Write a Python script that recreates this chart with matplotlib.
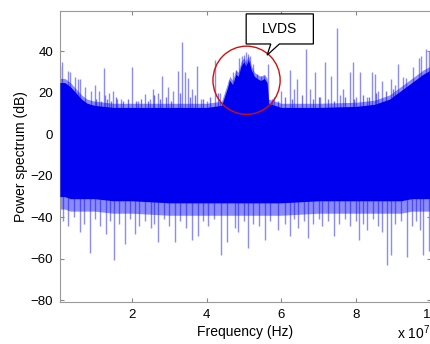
import matplotlib
matplotlib.use("Agg")
import matplotlib.pyplot as plt
from matplotlib.patches import Ellipse, Polygon

plt.rcParams['font.family'] = ['Liberation Sans', 'DejaVu Sans']
plt.rcParams['mathtext.default'] = 'regular'

# ── data (frequency in units of 1e7 Hz, level in dB) ────
# dense body of the spectrum: upper / lower edge
env_f = [0.07, 0.2, 0.35, 0.5, 0.65, 0.8, 1.0, 1.5, 2.0, 3.0, 4.0, 4.4, 4.55,
         4.62, 4.7, 4.78, 4.85, 4.92, 5.0, 5.05, 5.12, 5.2, 5.28, 5.35, 5.45,
         5.55, 5.62, 5.66, 6.0, 7.0, 8.0, 8.5, 8.9, 9.2, 9.5, 9.8, 10.0]
env_top = [25, 25, 23, 20, 17, 15, 14, 13, 13, 13, 13, 14, 22,
           26, 24, 29, 28, 33, 35, 33, 36, 31, 28, 27, 26,
           27, 25, 15, 13, 13, 13.5, 14.5, 17, 21, 25, 29, 31]
env_bot = [-30, -30, -31, -31, -31, -31, -31, -32, -32, -33, -33, -33, -33,
           -33, -33, -33, -33, -33, -33, -33, -33, -33, -33, -33, -33,
           -33, -33, -33, -33, -32, -32, -32, -32, -32, -31, -31, -31]

# tall upward spikes
up_f = [0.07, 0.12, 0.28, 0.34, 0.47, 0.55, 0.62, 0.74, 0.9, 1.0, 1.13, 1.25,
        1.28, 1.38, 1.5, 1.6, 1.7, 2.0, 2.15, 2.35, 2.48, 2.56, 2.7, 2.81,
        2.97, 3.10, 3.23, 3.34, 3.42, 3.50, 3.61, 3.74, 3.85, 4.0, 4.23, 4.36,
        4.6, 4.7, 4.8, 4.88, 4.95, 5.0, 5.05, 5.1, 5.15, 5.25, 5.35, 5.45,
        5.55, 5.65, 5.8, 6.0, 6.24, 6.35, 6.43, 6.67, 6.78, 6.91, 7.05, 7.18,
        7.32, 7.50, 7.58, 7.66, 7.83, 7.91, 8.0, 8.12, 8.3, 8.44, 8.50, 8.6,
        8.71, 8.93, 9.05, 9.14, 9.25, 9.35, 9.54, 9.68, 9.75, 9.87, 9.95]
up_db = [33, 35, 30.5, 30, 27.5, 26.6, 26.6, 23, 21, 24, 21, 32,
         19, 20, 21, 17, 17, 32.4, 16, 19.4, 17, 21.8, 20, 28,
         23, 21, 30.5, 44.5, 30, 27, 22, 33, 17, 16, 36, 20,
         26, 30, 31, 37, 38, 38.5, 39.7, 39, 38, 34, 29, 28,
         28, 34, 18, 21, 31, 22, 26.6, 41, 22, 30, 18, 35,
         28, 51.5, 19, 22, 30, 35, 18, 30, 18, 30, 29, 21,
         25.7, 26.6, 24, 34, 27.5, 27, 32.4, 37, 38, 41, 40]

# short upward spikes just above the body
up_small_f = [1.05, 1.18, 1.33, 1.45, 1.58, 1.75, 1.9, 2.1, 2.25, 2.42, 2.6,
              2.75, 2.9, 3.05, 3.3, 3.55, 3.68, 3.9, 4.1, 4.3, 5.75, 5.9, 6.1,
              6.3, 6.55, 6.85, 7.0, 7.25, 7.4, 7.7, 7.95, 8.2, 8.35, 8.55, 8.8,
              9.0]
up_small_db = [17, 16, 17, 16, 18, 16, 17, 16, 17, 16, 19,
               17, 18, 16, 20, 18, 19, 17, 18, 20, 17, 16, 18,
               17, 19, 17, 18, 17, 16, 18, 17, 19, 18, 20, 21,
               22]

# downward spikes
dn_f = [0.15, 0.3, 0.45, 0.6, 0.72, 0.87, 1.0, 1.15, 1.30, 1.42, 1.52, 1.65,
        1.81, 1.95, 2.08, 2.2, 2.35, 2.5, 2.6, 2.70, 2.85, 3.0, 3.15, 3.3,
        3.45, 3.61, 3.77, 3.9, 4.05, 4.2, 4.39, 4.55, 4.77, 4.85, 5.0, 5.11,
        5.25, 5.4, 5.57, 5.7, 5.92, 6.1, 6.24, 6.35, 6.46, 6.6, 6.72, 6.85,
        7.0, 7.10, 7.25, 7.40, 7.55, 7.7, 7.85, 8.0, 8.09, 8.2, 8.31, 8.45,
        8.6, 8.71, 8.82, 8.93, 9.05, 9.2, 9.38, 9.5, 9.62, 9.73, 9.81, 9.95]
dn_db = [-42, -44, -40, -47, -43, -57, -41, -44, -48, -42, -60.5, -43,
         -53, -41, -48, -44, -42, -45, -43, -52, -41, -44, -52, -42,
         -45, -51, -49, -42, -44, -41, -58, -52, -45, -47, -42, -55,
         -43, -44, -51, -42, -46, -43, -49, -41, -45, -42, -50, -43,
         -41, -44, -42, -49, -43, -41, -44, -42, -51, -43, -46, -41,
         -44, -47, -63, -58, -43, -42, -59, -44, -42, -46, -58, -56]

x_ticks = [2, 4, 6, 8, 10]
y_ticks = [-80, -60, -40, -20, 0, 20, 40]

BLUE = "#0000f0"

fig = plt.figure(figsize=(4.31, 3.44), dpi=100)
ax = fig.add_axes([0.139, 0.121, 0.860, 0.847])

# spikes behind the dense body
ax.vlines(up_f, 0, up_db, color=BLUE, alpha=0.45, linewidth=1.0, zorder=1)
ax.vlines(up_small_f, 0, up_small_db, color=BLUE, alpha=0.55, linewidth=1.0, zorder=1)
ax.vlines(dn_f, dn_db, 0, color=BLUE, alpha=0.45, linewidth=1.0, zorder=1)

# ragged fringe band and solid body
ax.fill_between(env_f, [t + 2 for t in env_top], [b - 6 for b in env_bot],
                color=BLUE, alpha=0.45, linewidth=0, zorder=2)
ax.fill_between(env_f, env_top, env_bot, color=BLUE, linewidth=0, zorder=3)

# annotation: red circle + callout
ax.add_patch(Ellipse((5.07, 26.1), 1.80, 32.9, fill=False,
                     edgecolor="#d01010", linewidth=1.0, zorder=5))
callout = Polygon([(5.06, 58.1), (6.86, 58.1), (6.86, 43.6), (5.95, 43.6),
                   (5.62, 38.2), (5.72, 43.6), (5.06, 43.6)],
                  closed=True, facecolor="white", edgecolor="black",
                  linewidth=0.9, zorder=6)
ax.add_patch(callout)
ax.text(5.96, 50.8, "LVDS", ha="center", va="center", fontsize=10, zorder=7)

ax.set_xlim(0.07, 10.0)
ax.set_ylim(-81, 59.5)
ax.set_xticks(x_ticks)
ax.set_xticklabels([str(t) for t in x_ticks])
ax.set_yticks(y_ticks)
ax.tick_params(direction="in", length=3, width=0.8, color="#888888",
               top=True, right=True, labelsize=9.5, pad=5)
for s in ax.spines.values():
    s.set_color("#999999")
    s.set_linewidth(0.8)

ax.set_xlabel("Frequency (Hz)", fontsize=10, labelpad=3)
ax.set_ylabel("Power spectrum (dB)", fontsize=10, labelpad=2)
fig.text(0.922, 0.015, "x 10$^{7}$", fontsize=10)

fig.savefig("out.png", dpi=100, facecolor="white")
